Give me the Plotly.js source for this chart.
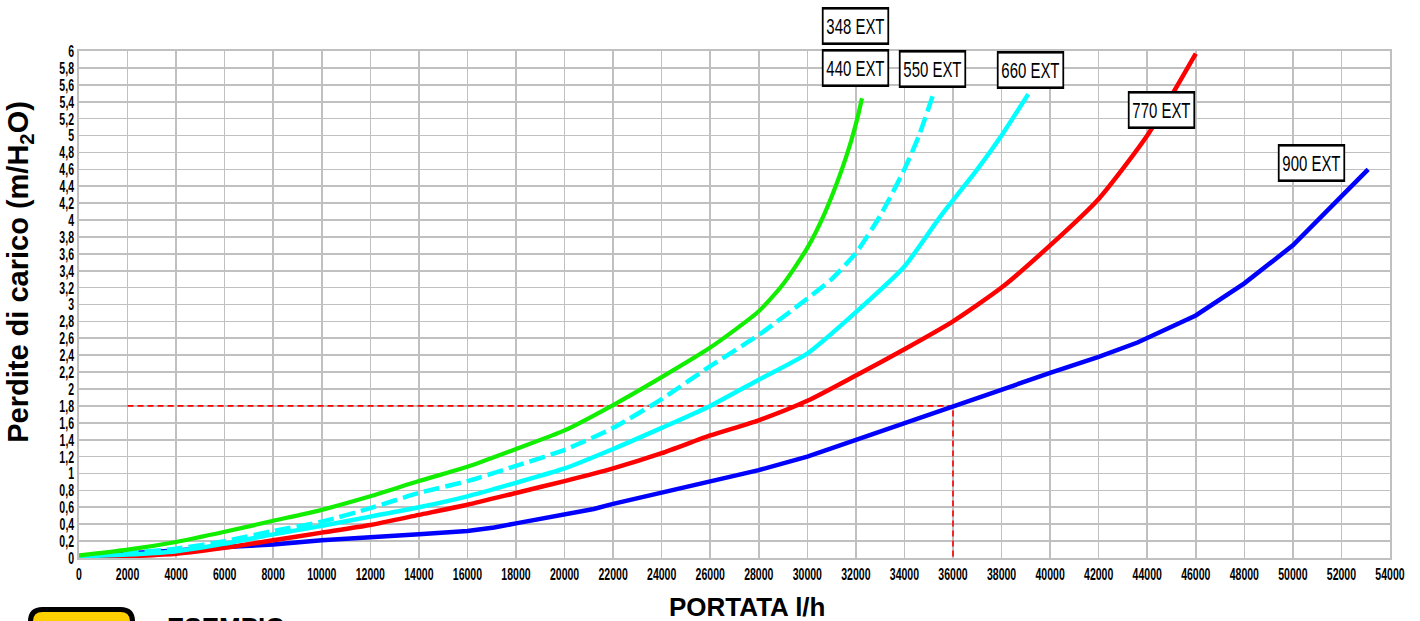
<!DOCTYPE html>
<html>
<head>
<meta charset="utf-8">
<script src="https://cdn.plot.ly/plotly-3.0.1.min.js"></script>
<style>
  html, body { margin: 0; padding: 0; background: #ffffff; }
  #chart { width: 1420px; height: 621px; }
</style>
</head>
<body>
<div id="chart"></div>
<script>
// ---- data ----
const x348 = [0, 2000, 4000, 6000, 8000, 10000, 12000, 14000, 16000, 18000, 20000, 22000, 24000, 26000, 28000, 29000, 30000, 30700, 31400, 31800, 32100, 32250];
const y348 = [0.03, 0.10, 0.19, 0.31, 0.44, 0.57, 0.73, 0.91, 1.08, 1.29, 1.51, 1.81, 2.14, 2.49, 2.92, 3.24, 3.67, 4.07, 4.58, 4.93, 5.25, 5.44];

const x550 = [0, 2000, 4000, 6000, 8000, 10000, 12000, 14000, 16000, 18000, 20000, 22000, 24000, 26000, 28000, 30000, 31000, 32000, 33000, 34000, 34600, 35200];
const y550 = [0.02, 0.06, 0.11, 0.20, 0.32, 0.43, 0.59, 0.77, 0.91, 1.09, 1.28, 1.54, 1.88, 2.27, 2.64, 3.07, 3.30, 3.61, 4.05, 4.60, 5.00, 5.50];

const x660 = [0, 2000, 4000, 6000, 8000, 10000, 12000, 14000, 16000, 18000, 20000, 22000, 24000, 26000, 28000, 30000, 32000, 34000, 35500, 37000, 38000, 39100];
const y660 = [0.02, 0.04, 0.08, 0.17, 0.28, 0.38, 0.49, 0.60, 0.73, 0.89, 1.06, 1.29, 1.54, 1.80, 2.11, 2.42, 2.91, 3.45, 4.05, 4.60, 5.00, 5.49];

const x770 = [0, 2000, 4000, 6000, 8000, 10000, 12000, 14000, 16000, 18000, 20000, 22000, 24000, 26000, 28000, 30000, 32000, 34000, 36000, 38000, 40000, 42000, 44000, 46000];
const y770 = [0.00, 0.02, 0.05, 0.12, 0.21, 0.30, 0.39, 0.51, 0.63, 0.77, 0.91, 1.06, 1.24, 1.45, 1.63, 1.86, 2.16, 2.47, 2.80, 3.20, 3.70, 4.25, 5.00, 5.97];

const x900 = [0, 2000, 4000, 6000, 8000, 10000, 12000, 14000, 16000, 17100, 18000, 20000, 21200, 22000, 24000, 26000, 28000, 30000, 32000, 34000, 36000, 38000, 40000, 42000, 43600, 46000, 48000, 50000, 53100];
const y900 = [0.02, 0.05, 0.09, 0.13, 0.16, 0.21, 0.24, 0.28, 0.32, 0.36, 0.41, 0.51, 0.58, 0.64, 0.77, 0.90, 1.04, 1.20, 1.40, 1.59, 1.80, 2.00, 2.19, 2.38, 2.55, 2.87, 3.25, 3.70, 4.60];

// example reading (dashed red guide)
const exampleX = [2000, 36000, 36000];
const exampleY = [1.8, 1.8, 0];

// tick labels
const xTickVals = [0, 2000, 4000, 6000, 8000, 10000, 12000, 14000, 16000, 18000, 20000, 22000, 24000, 26000, 28000, 30000, 32000, 34000, 36000, 38000, 40000, 42000, 44000, 46000, 48000, 50000, 52000, 54000];
const xTickText = ["0", "2000", "4000", "6000", "8000", "10000", "12000", "14000", "16000", "18000", "20000", "22000", "24000", "26000", "28000", "30000", "32000", "34000", "36000", "38000", "40000", "42000", "44000", "46000", "48000", "50000", "52000", "54000"];
const yTickVals = [0, 0.2, 0.4, 0.6, 0.8, 1, 1.2, 1.4, 1.6, 1.8, 2, 2.2, 2.4, 2.6, 2.8, 3, 3.2, 3.4, 3.6, 3.8, 4, 4.2, 4.4, 4.6, 4.8, 5, 5.2, 5.4, 5.6, 5.8, 6];
const yTickText = ["0", "0,2", "0,4", "0,6", "0,8", "1", "1,2", "1,4", "1,6", "1,8", "2", "2,2", "2,4", "2,6", "2,8", "3", "3,2", "3,4", "3,6", "3,8", "4", "4,2", "4,4", "4,6", "4,8", "5", "5,2", "5,4", "5,6", "5,8", "6"];

const modelLabels = ["348 EXT", "440 EXT", "550 EXT", "660 EXT", "770 EXT", "900 EXT"];
const xTitle = 'PORTATA l/h';
const yTitle = 'Perdite di carico (m/H<sub>2</sub>O)';

// ---- drawing ----
const sans = "'Liberation Sans', Arial, Helvetica, sans-serif";

const traces = [
  { x: exampleX, y: exampleY, mode: 'lines', line: { color: '#ff0000', width: 1.6, dash: '6px,4px' }, hoverinfo: 'skip', showlegend: false },
  { x: x900, y: y900, mode: 'lines', name: '900 EXT', line: { color: '#0000ff', width: 4.5 } },
  { x: x770, y: y770, mode: 'lines', name: '770 EXT', line: { color: '#ff0000', width: 4.5, shape: 'spline', smoothing: 0.6 } },
  { x: x660, y: y660, mode: 'lines', name: '660 EXT', line: { color: '#00ffff', width: 4.5, shape: 'spline', smoothing: 0.6 } },
  { x: x550, y: y550, mode: 'lines', name: '550 EXT', line: { color: '#00ffff', width: 4.5, dash: '16px,6px', shape: 'spline', smoothing: 0.6 } },
  { x: x348, y: y348, mode: 'lines', name: '348 / 440 EXT', line: { color: '#11ee00', width: 4.2, shape: 'spline', smoothing: 0.6 } }
];

// label box centres: [x (data), y (paper)]
const labelPos = [
  [32000, 1.049], [32000, 0.966], [35150, 0.964], [39200, 0.962], [44600, 0.884], [50750, 0.779]
];
const annotations = modelLabels.map((t, i) => ({
  x: labelPos[i][0], y: labelPos[i][1], xref: 'x', yref: 'paper', xanchor: 'center', yanchor: 'middle',
  text: t, showarrow: false,
  font: { family: sans, size: 22, color: '#000000' },
  bgcolor: '#ffffff', bordercolor: '#000000', borderwidth: 2.6, borderpad: 4
}));
// axis titles (the original places them off-centre)
annotations.push({
  x: -0.0452, y: 0.564, xref: 'paper', yref: 'paper', xanchor: 'center', yanchor: 'middle',
  text: yTitle, textangle: -90, showarrow: false,
  font: { family: sans, size: 29, color: '#000000', weight: 'bold' }
});
annotations.push({
  x: 0.5095, y: -0.0966, xref: 'paper', yref: 'paper', xanchor: 'center', yanchor: 'middle',
  text: xTitle, showarrow: false,
  font: { family: sans, size: 26, color: '#000000', weight: 'bold' }
});
annotations.push({
  x: 0.0656, y: -0.1025, xref: 'paper', yref: 'paper', xanchor: 'left', yanchor: 'top',
  text: 'ESEMPIO', showarrow: false,
  font: { family: sans, size: 26, color: '#000000', weight: 'bold' }
});

// rounded yellow badge at bottom left (partly cut by page edge)
const px = v => (v - 79) / 1311;
const py = v => (558 - v) / 507;
const L = px(30.5), R = px(132.5), T = py(609.5), B = py(660);
const rx = 12 / 1311, ry = 12 / 507;
const badgePath = `M ${L},${B} L ${L},${T - ry} Q ${L},${T} ${L + rx},${T} L ${R - rx},${T} Q ${R},${T} ${R},${T - ry} L ${R},${B} Z`;

const layout = {
  width: 1420, height: 621,
  margin: { l: 79, r: 30, t: 51, b: 63, pad: 0 },
  paper_bgcolor: '#ffffff', plot_bgcolor: '#ffffff',
  showlegend: false,
  xaxis: {
    range: [0, 54000], tickmode: 'array', tickvals: xTickVals, ticktext: xTickText, tickangle: 0,
    showgrid: true, gridcolor: '#c0c0c0', gridwidth: 1.6,
    showline: true, linecolor: '#c0c0c0', linewidth: 1.6, mirror: true,
    zeroline: false, ticks: '', automargin: false,
    tickfont: { family: sans, size: 17, color: '#000000', weight: 'bold' }
  },
  yaxis: {
    range: [0, 6], tickmode: 'array', tickvals: yTickVals, ticktext: yTickText, tickangle: 0,
    showgrid: true, gridcolor: '#c0c0c0', gridwidth: 1.6,
    showline: true, linecolor: '#c0c0c0', linewidth: 1.6, mirror: true,
    zeroline: false, ticks: '', automargin: false,
    tickfont: { family: sans, size: 17, color: '#000000', weight: 'bold' }
  },
  annotations: annotations,
  shapes: [
    { type: 'path', xref: 'paper', yref: 'paper', path: badgePath, fillcolor: '#ffd000', line: { color: '#000000', width: 5 } }
  ]
};

// narrow an element horizontally to imitate the condensed face of the original
function condense(el, s, anchor) {
  const b = el.getBBox();
  const cx = anchor === 'end' ? b.x + b.width : b.x + b.width / 2;
  const tr = el.getAttribute('transform') || '';
  el.setAttribute('transform', `${tr} translate(${cx},0) scale(${s},1) translate(${-cx},0)`);
}

Plotly.newPlot('chart', traces, layout, { displayModeBar: false, staticPlot: true }).then(gd => {
  gd.querySelectorAll('.xtick text').forEach(t => condense(t, 0.62, 'middle'));
  gd.querySelectorAll('.ytick text').forEach(t => condense(t, 0.62, 'end'));
  gd.querySelectorAll('.annotation-text-g').forEach(g => {
    if (g.textContent.indexOf('EXT') >= 0) condense(g, 0.68, 'middle');
  });
});
</script>
</body>
</html>
